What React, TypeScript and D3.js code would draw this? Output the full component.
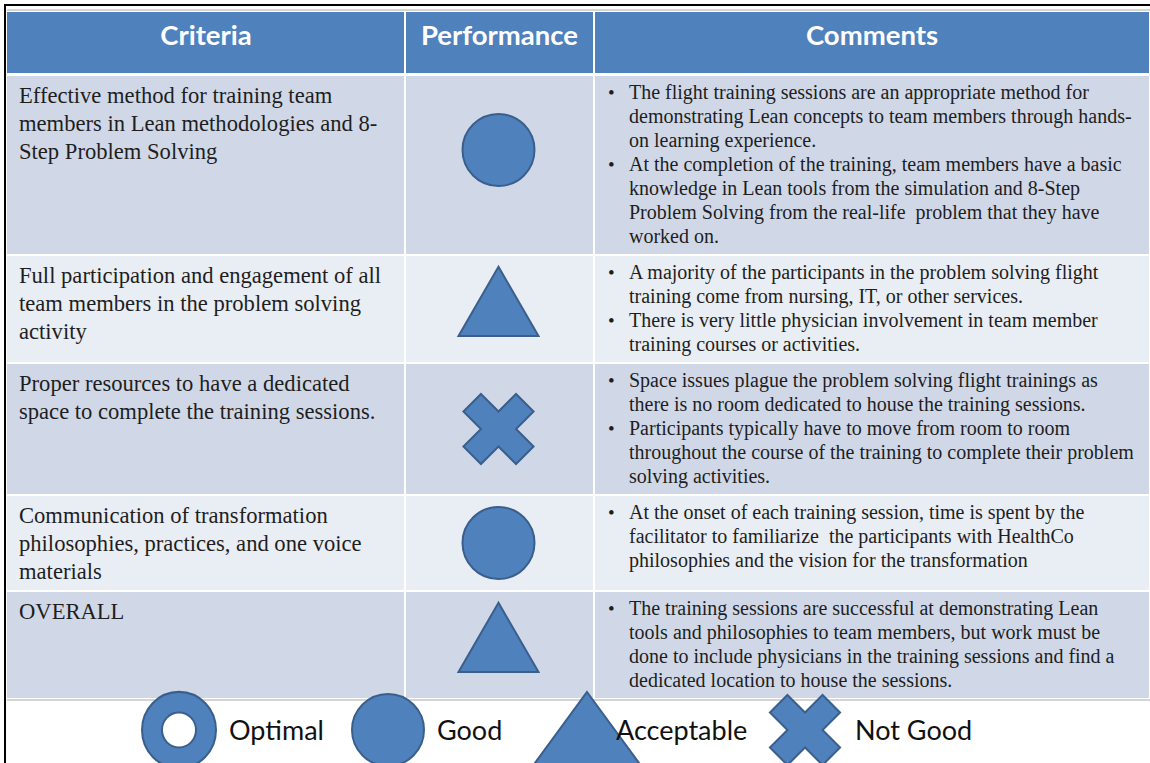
import React from 'react';
import * as d3 from 'd3';

const headers = ['Criteria', 'Performance', 'Comments'];

const criteria: string[][] = [
  ['Effective method for training team', 'members in Lean methodologies and 8-', 'Step Problem Solving'],
  ['Full participation and engagement of all', 'team members in the problem solving', 'activity'],
  ['Proper resources to have a dedicated', 'space to complete the training sessions.'],
  ['Communication of transformation', 'philosophies, practices, and one voice', 'materials'],
  ['OVERALL'],
];

const ratings = ['good', 'acceptable', 'notgood', 'good', 'acceptable'];

const comments: string[][][] = [
  [
    ['The flight training sessions are an appropriate method for', 'demonstrating Lean concepts to team members through hands-', 'on learning experience.'],
    ['At the completion of the training, team members have a basic', 'knowledge in Lean tools from the simulation and 8-Step', 'Problem Solving from the real-life  problem that they have', 'worked on.'],
  ],
  [
    ['A majority of the participants in the problem solving flight', 'training come from nursing, IT, or other services.'],
    ['There is very little physician involvement in team member', 'training courses or activities.'],
  ],
  [
    ['Space issues plague the problem solving flight trainings as', 'there is no room dedicated to house the training sessions.'],
    ['Participants typically have to move from room to room', 'throughout the course of the training to complete their problem', 'solving activities.'],
  ],
  [
    ['At the onset of each training session, time is spent by the', 'facilitator to familiarize  the participants with HealthCo', 'philosophies and the vision for the transformation'],
  ],
  [
    ['The training sessions are successful at demonstrating Lean', 'tools and philosophies to team members, but work must be', 'done to include physicians in the training sessions and find a', 'dedicated location to house the sessions.'],
  ],
];

const legendShapes = ['optimal', 'good', 'acceptable', 'notgood'];
const legendLabels = ['Optimal', 'Good', 'Acceptable', 'Not Good'];

const W = 1150;
const H = 763;
const BLUE = '#4f81bd';
const EDGE = '#3a5f8c';
const ROW_DARK = '#d0d8e8';
const ROW_LIGHT = '#e9edf4';
const SERIF = '"Liberation Serif", "Times New Roman", serif';
const SANS = 'Lato, "Open Sans", sans-serif';

const colEdges = [7, 405, 594, W];
const headTop = 12;
const headBottom = 73;
const commentLH = 24;
const criteriaLH = 28;

// the legend triangle is wider than the ones in the table
const wideTriangle = d3.line()([[0, -38], [66, 52], [-66, 52]]) + 'Z';

const shapePath = (kind: string, legend = false): string => {
  if (kind === 'good') return d3.symbol(d3.symbolCircle, Math.PI * 36 * 36)() as string;
  if (kind === 'acceptable') return legend ? wideTriangle : (d3.symbol(d3.symbolTriangle, 2771)() as string);
  if (kind === 'notgood') return d3.symbol(d3.symbolCross, 3075)() as string;
  return d3.arc()({innerRadius: 17, outerRadius: 37, startAngle: 0, endAngle: 2 * Math.PI} as any) as string;
};

const Shape = ({kind, x, y, legend}: {kind: string; x: number; y: number; legend?: boolean}) => (
  <path
    d={shapePath(kind, legend)}
    transform={`translate(${x},${y})${kind === 'notgood' ? ' rotate(45)' : ''}${kind === 'optimal' ? ' scale(1,1.03)' : ''}`}
    fill={BLUE}
    stroke={EDGE}
    strokeWidth={2}
  />
);

export default function App() {
  // row heights follow their content
  const heights = comments.map((c, i) => {
    const nComment = d3.sum(c, (b) => b.length);
    return Math.max(nComment * commentLH, criteria[i].length * criteriaLH) + 10;
  });
  const tops: number[] = [];
  let y = 76;
  heights.forEach((h) => {
    tops.push(y);
    y += h + 2;
  });
  const tableBottom = tops[tops.length - 1] + heights[heights.length - 1];

  const legendX = d3.scaleOrdinal<string, number>().domain(legendShapes).range([179, 388, 587, 805]);
  const legendGap: Record<string, number> = {optimal: 50, good: 49, acceptable: 29, notgood: 50};

  return (
    <svg width={W} height={H} style={{position: 'fixed', left: 0, top: 0, background: '#fff'}}>
      <line x1={5} y1={5} x2={W} y2={5} stroke="#000" strokeWidth={2} />
      <line x1={5} y1={4} x2={5} y2={H} stroke="#000" strokeWidth={2} />
      <line x1={7} y1={10} x2={W} y2={10} stroke="#c8c8c8" strokeWidth={1.5} />

      {headers.map((h, i) => (
        <g key={h}>
          <rect
            x={colEdges[i] + (i ? 1 : 0)}
            y={headTop}
            width={colEdges[i + 1] - colEdges[i] - (i ? 1 : 0) - 1}
            height={headBottom - headTop}
            fill={BLUE}
          />
          <text
            x={(colEdges[i] + colEdges[i + 1]) / 2}
            y={45}
            textAnchor="middle"
            fontFamily={SANS}
            fontWeight={700}
            fontSize={27.5}
            fill="#fff">
            {h}
          </text>
        </g>
      ))}

      {criteria.map((lines, r) => {
        const top = tops[r];
        const h = heights[r];
        const fill = r % 2 === 0 ? ROW_DARK : ROW_LIGHT;
        let ly = top + 23;
        const shapeY = Math.min(top + h / 2, top + 74) + (ratings[r] === 'acceptable' ? 4 : 0);
        return (
          <g key={r}>
            {[0, 1, 2].map((c) => (
              <rect
                key={c}
                x={colEdges[c] + (c ? 1 : 0)}
                y={top}
                width={colEdges[c + 1] - colEdges[c] - (c ? 1 : 0) - 1}
                height={h}
                fill={fill}
              />
            ))}
            {lines.map((l, k) => (
              <text key={k} x={19} y={top + 27 + k * criteriaLH} fontFamily={SERIF} fontSize={22.6} fill="#1e1e1e">
                {l}
              </text>
            ))}
            <Shape kind={ratings[r]} x={(colEdges[1] + colEdges[2]) / 2 - 1} y={shapeY} />
            {comments[r].map((bullet, b) => {
              const start = ly;
              ly += bullet.length * commentLH;
              return (
                <g key={b}>
                  <text x={608} y={start} fontFamily={SERIF} fontSize={19} fill="#1e1e1e">
                    •
                  </text>
                  {bullet.map((l, k) => (
                    <text
                      key={k}
                      x={629}
                      y={start + k * commentLH}
                      fontFamily={SERIF}
                      fontSize={20}
                      fill="#1e1e1e"
                      style={{whiteSpace: 'pre'}}>
                      {l}
                    </text>
                  ))}
                </g>
              );
            })}
          </g>
        );
      })}

      <line x1={7} y1={tableBottom + 2} x2={W} y2={tableBottom + 2} stroke="#d4d4d4" strokeWidth={2} />

      {legendShapes.map((s, i) => {
        const cx = legendX(s);
        return (
          <g key={s}>
            <Shape kind={s} x={cx} y={730} legend />
            <text x={cx + legendGap[s]} y={740} fontFamily={SANS} fontSize={27} fill="#111">
              {legendLabels[i]}
            </text>
          </g>
        );
      })}
    </svg>
  );
}
